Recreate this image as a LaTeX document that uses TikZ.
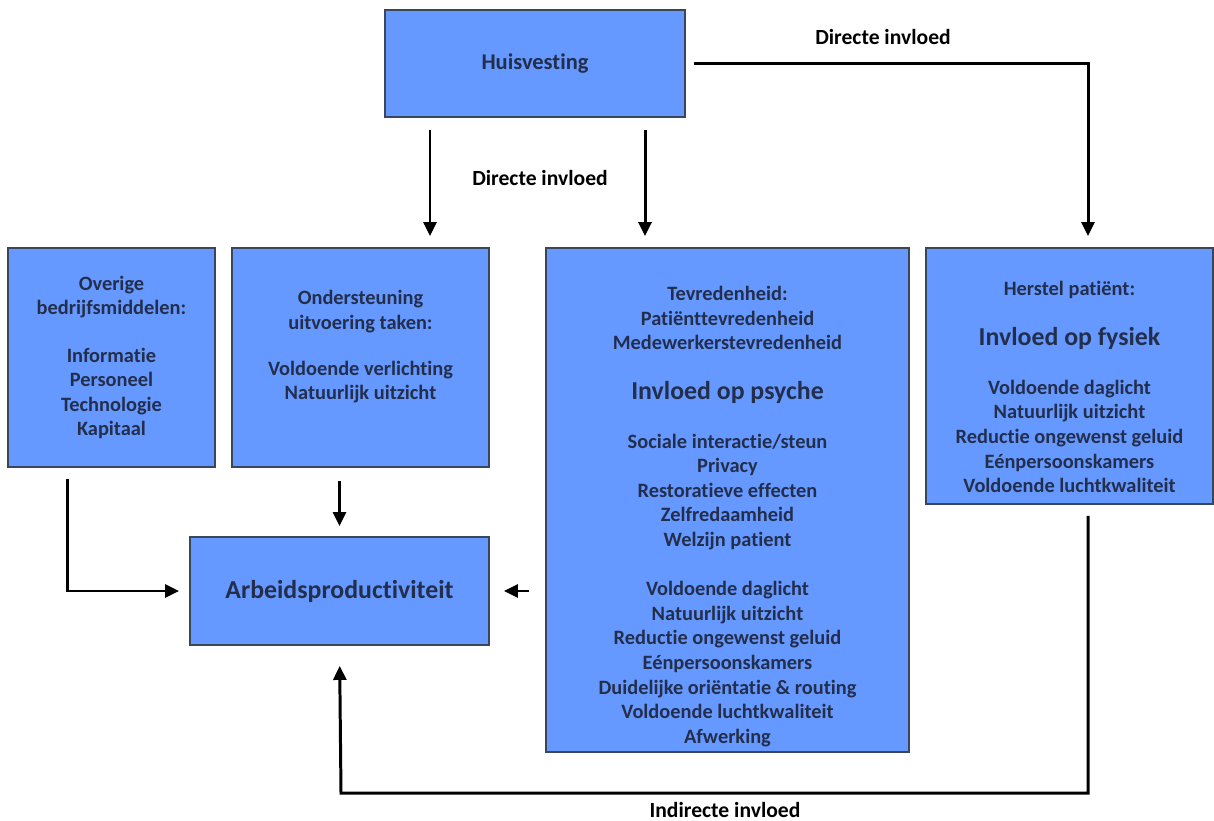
\documentclass[tikz,border=0pt]{standalone}
\usepackage{fontspec}
\setmainfont{Carlito}[Ligatures=NoCommon]
\usetikzlibrary{positioning, arrows.meta}
\definecolor{BoxBlue}{RGB}{102, 153, 255}
\definecolor{BoxEdge}{RGB}{58, 70, 92}
\definecolor{BoxText}{RGB}{35, 46, 76}

\begin{document}
\begin{tikzpicture}[x=0.02cm, y=-0.02cm,
    box/.style={draw=BoxEdge, line width=1.1pt, fill=BoxBlue, text=BoxText,
      align=center, font=\fontsize{11.6}{14}\selectfont\bfseries, inner sep=0pt},
    arr/.style={line width=1.7pt, -{Triangle[length=0.28cm, width=0.26cm]}},
    lbl/.style={font=\fontsize{12.3}{14}\selectfont\bfseries}]
    \useasboundingbox (0,0) rectangle (1214,821);

    % Top box
    \node[box, minimum width=6cm, minimum height=2.14cm, font=\fontsize{12.8}{14}\selectfont\bfseries]
      (huis) at (535,63.5) {Huisvesting};

    % Middle row
    \node[box, minimum width=4.14cm, minimum height=4.38cm] (ov) at (111.5,357.5)
      {Overige\\ bedrijfsmiddelen:\\[13pt] Informatie\\ Personeel\\ Technologie\\ Kapitaal};
    \node[box, minimum width=5.14cm, minimum height=4.38cm] (onder) at (360.5,357.5)
      {Ondersteuning\\ uitvoering taken:\\[12pt] Voldoende verlichting\\ Natuurlijk uitzicht\rule[-14pt]{0pt}{0pt}};
    \node[box, minimum width=7.26cm, minimum height=10.08cm] (tevr) at (727.5,500)
      {\rule{0pt}{27pt}Tevredenheid:\\ Patiënttevredenheid\\ Medewerkerstevredenheid\\[14pt]
       {\fontsize{14.7}{14}\selectfont Invloed op psyche}\\[14pt]
       Sociale interactie/steun\\ Privacy\\ Restoratieve effecten\\ Zelfredaamheid\\ Welzijn patient\\[14pt]
       Voldoende daglicht\\ Natuurlijk uitzicht\\ Reductie ongewenst geluid\\ Eénpersoonskamers\\
       Duidelijke oriëntatie \& routing\\ Voldoende luchtkwaliteit\\ Afwerking};
    \node[box, minimum width=5.74cm, minimum height=5.12cm] (herstel) at (1069.5,376)
      {\rule{0pt}{21pt}Herstel patiënt:\\[14pt]
       {\fontsize{14.7}{14}\selectfont Invloed op fysiek}\\[14pt]
       Voldoende daglicht\\ Natuurlijk uitzicht\\ Reductie ongewenst geluid\\ Eénpersoonskamers\\ Voldoende luchtkwaliteit};

    % Bottom box
    \node[box, minimum width=5.98cm, minimum height=2.16cm, font=\fontsize{14.7}{17}\selectfont\bfseries]
      (arbeid) at (339.5,591) {Arbeidsproductiviteit};

    % Labels
    \node[lbl] (dir1) at (883,37) {Directe invloed};
    \node[lbl] (dir2) at (540,178) {Directe invloed};
    \node[lbl] (indir) at (725,810) {Indirecte invloed};

    % Connectors
    \coordinate (hL) at (430,117);
    \coordinate (hR) at (645,117);
    \coordinate (hC) at (1088,0);
    \coordinate (ibot) at (341,793);
    \draw[arr, shorten <=0.26cm, shorten >=0.22cm] (hL) -- (hL |- onder.north);
    \draw[arr, shorten <=0.26cm, shorten >=0.22cm] (hR) -- (hR |- tevr.north);
    \draw[arr, shorten <=0.16cm, shorten >=0.22cm] (huis.east) -| (hC |- herstel.north);
    \draw[arr, shorten <=0.22cm, shorten >=0.2cm] ([xshift=-0.89cm]ov.south) |- (arbeid.west);
    \draw[arr, shorten <=0.26cm, shorten >=0.2cm] (arbeid.north |- onder.south) -- (arbeid.north);
    \draw[arr, shorten <=0.32cm, shorten >=0.28cm] (tevr.west |- arbeid.east) -- (arbeid.east);
    \draw[arr, shorten <=0.22cm, shorten >=0.4cm] (hC |- herstel.south) |- (ibot) -- (arbeid.south);
\end{tikzpicture}
\end{document}
